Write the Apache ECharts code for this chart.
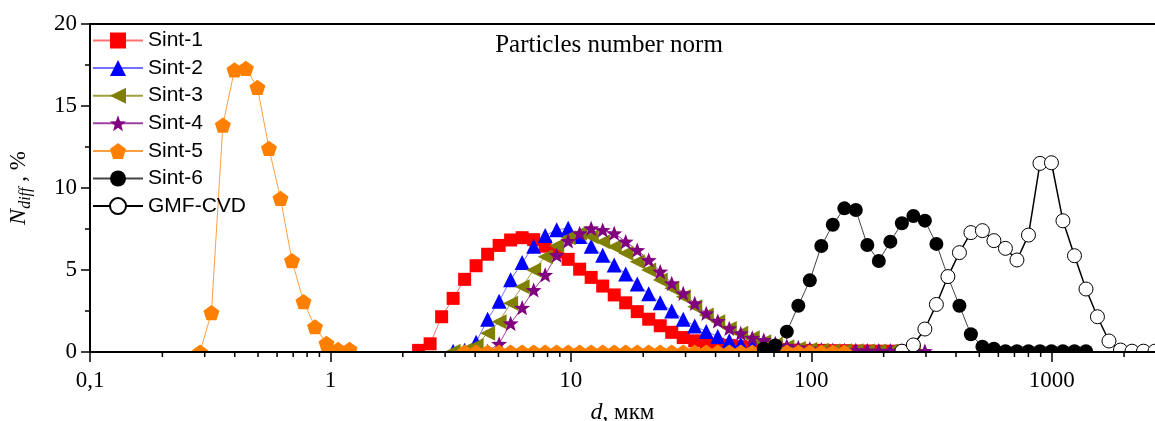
<!DOCTYPE html>
<html>
<head>
<meta charset="utf-8">
<script src="https://cdn.jsdelivr.net/npm/echarts@6/dist/echarts.min.js"></script>
<style>
    html, body { margin: 0; padding: 0; background: #fff; overflow: hidden; }
    #chart { width: 1155px; height: 421px; }
</style>
</head>
<body>
<div id="chart"></div>
<script>
// size classes, mkm (shared by all samples)
var sizes = [0.287, 0.320, 0.357, 0.399, 0.445, 0.497, 0.555, 0.620, 0.692, 0.773,
    0.863, 0.963, 1.076, 1.201, 1.341, 1.497, 1.672, 1.866, 2.084, 2.327,
    2.598, 2.901, 3.239, 3.616, 4.036, 4.507, 5.032, 5.618, 6.273, 7.004,
    7.820, 8.731, 9.748, 10.88, 12.15, 13.57, 15.15, 16.91, 18.89, 21.08,
    23.54, 26.28, 29.34, 32.76, 36.58, 40.84, 45.60, 50.91, 56.84, 63.46,
    70.86, 79.12, 88.34, 98.63, 110.1, 122.9, 137.3, 153.2, 171.1, 191.0,
    213.3, 238.2, 265.9, 296.9, 331.5, 370.1, 413.3, 461.3, 515.1, 575.1,
    642.1, 717.0, 800.6, 893.8, 997.7, 1114, 1244, 1389, 1550, 1731,
    1933, 2158, 2409, 2690];

// N_diff, % ; each series starts at index xxStart of sizes
var sint1Start = 19;
var sint1 = [0.1, 0.5, 2.15, 3.27, 4.43, 5.26, 5.96, 6.5, 6.83, 6.97,
    6.85, 6.45, 6.1, 5.65, 5.05, 4.55, 4.02, 3.48, 3.0, 2.46,
    2.0, 1.6, 1.2, 0.88, 0.68, 0.55, 0.47, 0.4, 0.33, 0.27,
    0.22, 0.18, 0.15, 0.12, 0.1, 0.1, 0.08, 0.08, 0.06, 0.06,
    0.05, 0.05, 0.05];
var sint2Start = 22;
var sint2 = [0.05, 0.1, 0.6, 2.0, 3.1, 4.4, 5.45, 6.45, 7.1, 7.45,
    7.55, 7.05, 6.45, 5.9, 5.3, 4.75, 4.15, 3.55, 3.0, 2.5,
    2.0, 1.58, 1.25, 0.94, 0.68, 0.48, 0.33, 0.24, 0.16, 0.12,
    0.1, 0.08, 0.07, 0.06, 0.06, 0.05, 0.05, 0.05, 0.05, 0.05];
var sint3Start = 22;
var sint3 = [0.05, 0.1, 0.4, 1.14, 1.85, 2.97, 3.98, 5.0, 5.81, 6.48,
    6.97, 7.24, 7.03, 6.73, 6.42, 6.02, 5.51, 5.0, 4.39, 3.88,
    3.37, 2.76, 2.26, 1.85, 1.44, 1.14, 0.87, 0.63, 0.45, 0.32,
    0.22, 0.15, 0.1, 0.08, 0.08, 0.07, 0.06, 0.06, 0.05, 0.05, 0.05];
var sint4Start = 25;
var sint4 = [0.05, 0.5, 1.75, 2.7, 3.78, 4.7, 5.91, 6.77, 7.24, 7.54,
    7.44, 7.24, 6.73, 6.22, 5.61, 4.9, 4.19, 3.58, 2.97, 2.36,
    1.89, 1.44, 1.14, 0.87, 0.73, 0.53, 0.38, 0.28, 0.2, 0.15,
    0.12, 0.1, 0.1, 0.09, 0.08, 0.08, 0.07, 0.06, 0.05];
var sint5Start = 0;
var sint5 = [0, 2.4, 13.84, 17.2, 17.3, 16.14, 12.42, 9.37, 5.57, 3.07,
    1.54, 0.53, 0.16, 0.16, null, null, null, null, null, null,
    null, null, null, 0, 0, 0, 0, 0, 0, 0,
    0, 0, 0, 0, 0, 0, 0, 0, 0, 0,
    0, 0, 0, 0, 0, 0, 0, 0, 0, 0,
    0, 0, 0, 0, 0, 0, 0];
var sint6Start = 49;
var sint6 = [0.2, 0.4, 1.24, 2.82, 4.37, 6.46, 7.76, 8.76, 8.66, 6.52,
    5.55, 6.73, 7.85, 8.29, 8.01, 6.59, 4.59, 2.82, 1.08, 0.32,
    0.2, 0.05, 0.05, 0.05, 0.05, 0.05, 0.05, 0.05, 0.05];
var gmfStart = 61;
var gmf = [0.05, 0.43, 1.4, 2.9, 4.6, 6.06, 7.28, 7.4, 6.79, 6.32,
    5.61, 7.13, 11.5, 11.54, 8.0, 5.87, 3.84, 2.15, 0.67, 0.12,
    0.05, 0.05, 0.05];

// log minor ticks (2..9 per decade)
var minorTicks = [0.2, 0.3, 0.4, 0.5, 0.6, 0.7, 0.8, 0.9,
    2, 3, 4, 5, 6, 7, 8, 9,
    20, 30, 40, 50, 60, 70, 80, 90,
    200, 300, 400, 500, 600, 700, 800, 900,
    2000];
var yTicks = [0, 5, 10, 15, 20];

var serifFont = '"Liberation Serif", "Times New Roman", serif';
var sansFont = '"Liberation Sans", Arial, sans-serif';

var pentagon = 'path://M50,0 L97.6,34.5 L79.4,90.5 L20.6,90.5 L2.4,34.5 Z';
var star = 'path://M50,0 L62.5,33 L97.6,34.5 L70,56.5 L79.4,90.5 L50,71 L20.6,90.5 L30,56.5 L2.4,34.5 L37.5,33 Z';
var leftTri = 'path://M0,50 L100,0 L100,100 Z';

function buildData(start, vals) {
    let out = [];
    for (let k = 0; k < vals.length; k++) {
        out.push([sizes[start + k], vals[k] === null ? null : vals[k]]);
    }
    return out;
}

function lineSeries(name, start, vals, symbol, size, color, lineColor, lineWidth, fill) {
    return {
        name: name,
        type: 'line',
        data: buildData(start, vals),
        symbol: symbol,
        symbolSize: size,
        symbolKeepAspect: true,
        showAllSymbol: true,
        connectNulls: false,
        z: 2,
        lineStyle: {color: lineColor, width: lineWidth},
        itemStyle: {
            color: fill || color,
            borderColor: color,
            borderWidth: fill ? 1 : 0,
            opacity: 1
        },
        emphasis: {disabled: true},
        animation: false
    };
}

var myChart = echarts.init(document.getElementById('chart'), null, {renderer: 'canvas', width: 1155, height: 421});

var option = {
    animation: false,
    title: {
        text: 'Particles number norm',
        left: 604,
        top: 28,
        textAlign: 'center',
        textStyle: {fontFamily: serifFont, fontSize: 25, fontWeight: 'normal', color: '#000'}
    },
    legend: {
        orient: 'vertical',
        left: 92,
        top: 30,
        padding: 0,
        itemWidth: 50,
        itemHeight: 20,
        itemGap: 6.6,
        textStyle: {fontFamily: sansFont, fontSize: 21, color: '#000'},
        data: ['Sint-1', 'Sint-2', 'Sint-3', 'Sint-4', 'Sint-5', 'Sint-6', 'GMF-CVD']
    },
    grid: {left: 90, right: 0, top: 24, bottom: 69, containLabel: false, outerBoundsMode: 'none'},
    xAxis: [{
        type: 'log',
        logBase: 10,
        min: 0.1,
        max: 2690,
        z: 5,
        name: '{i|d}{r|, мкм}',
        nameLocation: 'middle',
        nameGap: 49,
        nameTextStyle: {
            rich: {
                i: {fontFamily: serifFont, fontSize: 24, fontStyle: 'italic', color: '#000'},
                r: {fontFamily: serifFont, fontSize: 23, color: '#000'}
            }
        },
        axisLine: {lineStyle: {color: '#000', width: 2}},
        axisTick: {length: 10, lineStyle: {color: '#000', width: 1.5}},
        splitLine: {show: false},
        axisLabel: {
            margin: 17,
            fontFamily: serifFont,
            fontSize: 23,
            color: '#000',
            showMaxLabel: false,
            formatter: function (v) {
                if (Math.abs(v - 0.1) < 1e-6) return '0,1';
                let l = Math.log10(v);
                if (Math.abs(l - Math.round(l)) < 1e-6) return String(Math.round(v));
                return '';
            }
        }
    }, {
        type: 'value',
        position: 'top',
        min: 0,
        max: 1,
        z: 5,
        axisLine: {show: true, lineStyle: {color: '#000', width: 2}},
        axisTick: {show: false},
        axisLabel: {show: false},
        splitLine: {show: false}
    }],
    yAxis: {
        type: 'value',
        min: yTicks[0],
        max: yTicks[yTicks.length - 1],
        interval: 5,
        z: 5,
        name: '{n|N}{s|diff}{t| , %}',
        nameLocation: 'middle',
        nameRotate: 90,
        nameGap: 56,
        nameTextStyle: {
            rich: {
                n: {fontFamily: serifFont, fontSize: 24, fontStyle: 'italic', color: '#000', lineHeight: 30, verticalAlign: 'middle'},
                s: {fontFamily: serifFont, fontSize: 16, fontStyle: 'italic', color: '#000', lineHeight: 16, verticalAlign: 'bottom'},
                t: {fontFamily: serifFont, fontSize: 23, color: '#000', lineHeight: 30, verticalAlign: 'middle'}
            }
        },
        axisLine: {show: true, lineStyle: {color: '#000', width: 2}},
        axisTick: {show: true, length: 9, lineStyle: {color: '#000', width: 1.5}},
        minorTick: {show: true, splitNumber: 2, length: 5, lineStyle: {color: '#000', width: 1.5}},
        splitLine: {show: false},
        axisLabel: {margin: 13, fontFamily: serifFont, fontSize: 23, color: '#000'}
    },
    series: [
        lineSeries('Sint-1', sint1Start, sint1, 'rect', 13, '#ff0000', '#ff7070', 1),
        lineSeries('Sint-2', sint2Start, sint2, 'triangle', 15, '#0000ff', '#7070ff', 1),
        lineSeries('Sint-3', sint3Start, sint3, leftTri, 15, '#808000', '#a0a040', 1),
        lineSeries('Sint-4', sint4Start, sint4, star, 16, '#800080', '#a040a0', 1),
        lineSeries('Sint-5', sint5Start, sint5, pentagon, 16, '#ff8000', '#ffa040', 1),
        lineSeries('Sint-6', sint6Start, sint6, 'circle', 14, '#000000', '#444444', 1),
        lineSeries('GMF-CVD', gmfStart, gmf, 'circle', 14, '#000000', '#000000', 1.5, '#ffffff'),
        {
            name: 'minor',
            type: 'custom',
            silent: true,
            clip: false,
            z: 6,
            data: minorTicks.map(function (v) { return [v, 0]; }),
            renderItem: function (params, api) {
                let p = api.coord([api.value(0), 0]);
                return {
                    type: 'line',
                    shape: {x1: p[0], y1: p[1], x2: p[0], y2: p[1] + 5},
                    style: {stroke: '#000', lineWidth: 1.5}
                };
            }
        }
    ]
};

myChart.setOption(option);

// white strip under the x axis so that markers sitting on zero show only their top half
var y0 = myChart.convertToPixel({yAxisIndex: 0}, 0);
myChart.setOption({
    graphic: [{
        type: 'rect',
        z: 4,
        silent: true,
        shape: {x: 0, y: y0 + 1, width: 1155, height: 421 - y0},
        style: {fill: '#fff'}
    }]
});
</script>
</body>
</html>
